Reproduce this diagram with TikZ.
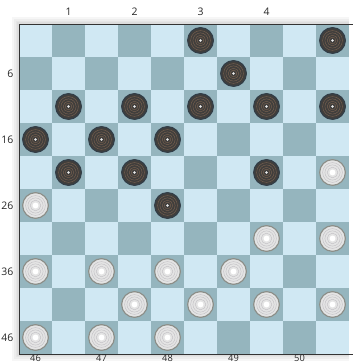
\documentclass[tikz,border=0pt]{standalone}
\usepackage{fontspec}
\setmainfont{Open Sans}
\usetikzlibrary{positioning}
\definecolor{lightsq}{RGB}{208,232,243}
\definecolor{darksq}{RGB}{149,181,190}
\definecolor{rimblack}{RGB}{50,62,72}
\definecolor{bodyblack}{RGB}{64,62,60}
\definecolor{ringblack}{RGB}{122,98,80}
\definecolor{bodywhite}{RGB}{228,228,228}
\definecolor{rimwhite}{RGB}{140,142,136}
\definecolor{ringwhite}{RGB}{196,194,198}

\begin{document}
\begin{tikzpicture}[
  lbl/.style={font=\small, text=black!85, inner sep=0.5pt},
  botlbl/.style={font=\footnotesize, text=black!85, inner sep=0pt},
  blackman/.style={circle, draw=rimblack, line width=1pt, fill=bodyblack,
                   minimum size=7.8mm, inner sep=0pt,
                   path picture={
                     \foreach \rr in {0.3,0.23,0.16,0.1}
                       \draw[ringblack, line width=0.35pt]
                         (path picture bounding box.center) circle (\rr);
                     \fill[white!85!gray] (path picture bounding box.center)
                       circle (0.04);}},
  whiteman/.style={circle, draw=rimwhite, line width=1pt, fill=bodywhite,
                   minimum size=7.8mm, inner sep=0pt,
                   path picture={
                     \foreach \rr in {0.3,0.23,0.16}
                       \draw[ringwhite, line width=0.4pt]
                         (path picture bounding box.center) circle (\rr);
                     \fill[white] (path picture bounding box.center)
                       circle (0.09);}}
]
\useasboundingbox (-0.576,-10.273) rectangle (10.091,0.727);
% soft shadow round the board
\foreach \s in {0.05,0.1,0.15,0.2}
  \fill[black, opacity=0.035] (-\s,\s) rectangle (10,-10-\s);
% squares
\fill[lightsq] (0,0) rectangle (10,-10);
\foreach \r in {0,...,9} {
  \foreach \c in {0,...,9} {
    \pgfmathtruncatemacro\odd{mod(\r+\c,2)}
    \ifnum\odd=1 \fill[darksq] (\c,-\r) rectangle ++(1,-1); \fi
  }
}
\draw[black!80, line width=0.8pt] (10.2,0) -- (0,0) -- (0,-10) -- (10.2,-10);
% playing squares 1..50
\foreach \n in {1,...,50} {
  \pgfmathtruncatemacro\row{(\n-1)/5}
  \pgfmathtruncatemacro\col{2*mod(\n-1,5)+1-mod(\row,2)}
  \coordinate (s\n) at (\col+0.5,-\row-0.5);
}
% numbers
\foreach \n in {1,...,4}
  \node[lbl, above=0.72 of s\n] (top\n) {\n};
\foreach \n in {6,16,26,36,46}
  \node[lbl, left=0.65 of s\n] (left\n) {\n};
\foreach \n in {46,...,50}
  \node[botlbl, below=0.53 of s\n] (bot\n) {\n};
% black men
\foreach \n in {3,5,9,11,12,13,14,15,16,17,18,21,22,24,28}
  \node[blackman] (b\n) at (s\n) {};
% white men
\foreach \n in {25,26,34,35,36,37,38,39,42,43,44,45,46,47,48}
  \node[whiteman] (w\n) at (s\n) {};
\end{tikzpicture}
\end{document}
